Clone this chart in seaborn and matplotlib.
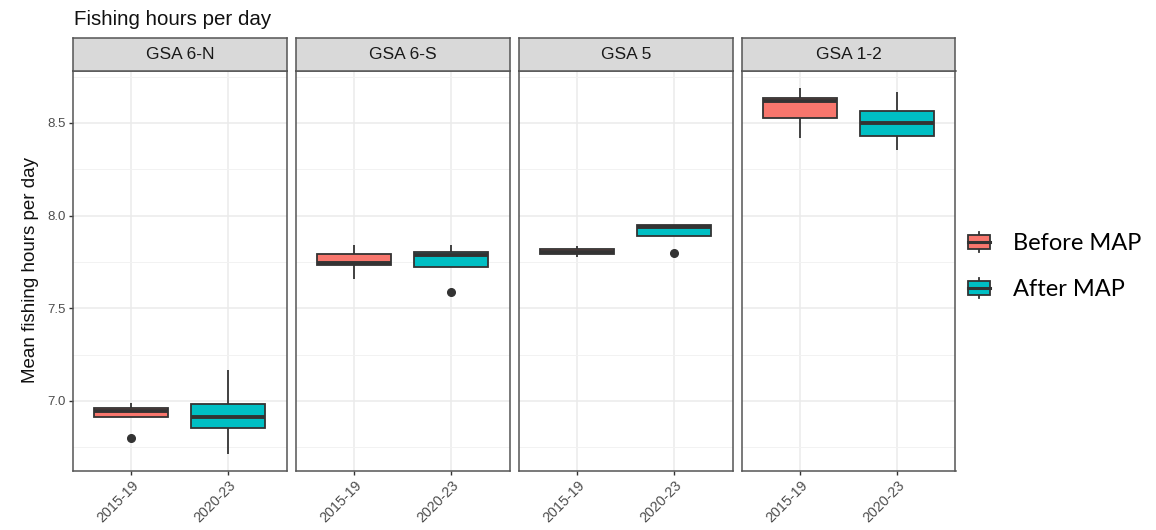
import matplotlib
matplotlib.use('Agg')

import matplotlib.pyplot as plt
from matplotlib.legend_handler import HandlerBase
from matplotlib.patches import Rectangle, Patch
from matplotlib.lines import Line2D
import seaborn as sns
import pandas as pd

plt.rcParams['font.family'] = ['Liberation Sans', 'DejaVu Sans']

# 数据：每个箱线图5个值（下须/离群点, Q1, 中位数, Q3, 上须），读自原图
regions = ['GSA 6-N', 'GSA 6-S', 'GSA 5', 'GSA 1-2']
periods = ['2015-19', '2020-23']
legend_labels = ['Before MAP', 'After MAP']

gsa6n_before = [6.798, 6.914, 6.944, 6.962, 6.987]
gsa6n_after = [6.714, 6.855, 6.915, 6.986, 7.168]
gsa6s_before = [7.657, 7.732, 7.745, 7.791, 7.839]
gsa6s_after = [7.587, 7.723, 7.790, 7.804, 7.843]
gsa5_before = [7.778, 7.791, 7.806, 7.821, 7.836]
gsa5_after = [7.800, 7.890, 7.937, 7.948, 7.948]
gsa12_before = [8.419, 8.529, 8.617, 8.633, 8.689]
gsa12_after = [8.353, 8.430, 8.498, 8.567, 8.665]

colors = {'2015-19': '#F8766D', '2020-23': '#00BFC4'}
line_col = '#333333'

rows = []
for region, before, after in zip(regions,
                                 [gsa6n_before, gsa6s_before, gsa5_before, gsa12_before],
                                 [gsa6n_after, gsa6s_after, gsa5_after, gsa12_after]):
    rows += [(region, periods[0], v) for v in before]
    rows += [(region, periods[1], v) for v in after]
df = pd.DataFrame(rows, columns=['region', 'period', 'hours'])


class BoxKey(HandlerBase):
    """图例中的小箱线图符号"""

    def create_artists(self, legend, orig_handle, xdescent, ydescent,
                       width, height, fontsize, trans):
        x0, y0 = -xdescent, -ydescent
        cx = x0 + width / 2
        whisk = Line2D([cx, cx], [y0, y0 + height], color=line_col, lw=1.3, transform=trans)
        box = Rectangle((x0, y0 + 0.15 * height), width, 0.70 * height,
                        facecolor=orig_handle.get_facecolor(), edgecolor=line_col,
                        lw=1.3, transform=trans)
        med = Line2D([x0, x0 + width], [y0 + height / 2] * 2, color=line_col, lw=2.2,
                     transform=trans)
        return [whisk, box, med]


W, H = 1156, 530
fig = plt.figure(figsize=(W / 100, H / 100), dpi=100)

panel_left = [73, 296, 519, 742]
panel_w = 213.5
strip_top, panel_top, panel_bot = 37.7, 70.7, 471

for i, region in enumerate(regions):
    ax = fig.add_axes([panel_left[i] / W, 1 - panel_bot / H,
                       panel_w / W, (panel_bot - panel_top) / H])
    sns.boxplot(data=df[df.region == region], x='period', y='hours', hue='period',
                order=periods, hue_order=periods, palette=colors, saturation=1,
                width=0.76, linewidth=1.3, linecolor=line_col, showcaps=False,
                medianprops=dict(linewidth=2.8),
                flierprops=dict(marker='o', markersize=5.5, markerfacecolor=line_col,
                                markeredgecolor=line_col),
                legend=False, ax=ax)
    ax.set_xlim(-0.6, 1.6)
    ax.set_ylim(6.622, 8.782)
    ax.set_yticks([7.0, 7.5, 8.0, 8.5])
    ax.set_yticklabels(['7.0', '7.5', '8.0', '8.5'])
    ax.set_yticks([6.75, 7.25, 7.75, 8.25, 8.75], minor=True)
    ax.grid(which='major', color='#EBEBEB', lw=1.1)
    ax.grid(which='minor', axis='y', color='#F2F2F2', lw=0.7)
    ax.set_axisbelow(True)
    ax.set_xlabel('')
    ax.set_ylabel('')
    for s in ax.spines.values():
        s.set_color('#555555')
        s.set_linewidth(1.1)
    ax.tick_params(which='major', length=3, width=1, color=line_col,
                   labelcolor='#4D4D4D', pad=2)
    ax.tick_params(axis='y', labelsize=9.5)
    ax.tick_params(axis='x', labelsize=10.3)
    ax.tick_params(which='minor', length=0)
    plt.setp(ax.get_xticklabels(), rotation=45, ha='right', va='top',
             rotation_mode='anchor')
    if i > 0:
        ax.tick_params(axis='y', left=False, labelleft=False)

    # 分面标题条
    sax = fig.add_axes([panel_left[i] / W, 1 - panel_top / H,
                        panel_w / W, (panel_top - strip_top) / H])
    sax.set_facecolor('#D9D9D9')
    sax.set_xticks([])
    sax.set_yticks([])
    for s in sax.spines.values():
        s.set_color('#555555')
        s.set_linewidth(1.1)
    sax.text(0.5, 0.5, region, ha='center', va='center', fontsize=12.5,
             color='#1A1A1A', transform=sax.transAxes)

fig.text(74 / W, 1 - 25 / H, 'Fishing hours per day', ha='left', va='baseline',
         fontsize=14.8, color='#111111')
fig.text(31 / W, 1 - 270 / H, 'Mean fishing hours per day', rotation=90,
         ha='center', va='center', fontsize=13.5, color='#111111')

handles = [Patch(facecolor=colors[p], edgecolor=line_col) for p in periods]
fig.legend(handles, legend_labels, handler_map={Patch: BoxKey()},
           loc='center left', bbox_to_anchor=(968 / W, 1 - 266 / H),
           frameon=False, prop={'family': 'Lato', 'size': 17},
           handlelength=0.92, handleheight=0.95, handletextpad=1.0,
           labelspacing=1.0, borderpad=0, borderaxespad=0)

fig.savefig('out.png', dpi=100)
plt.close()
